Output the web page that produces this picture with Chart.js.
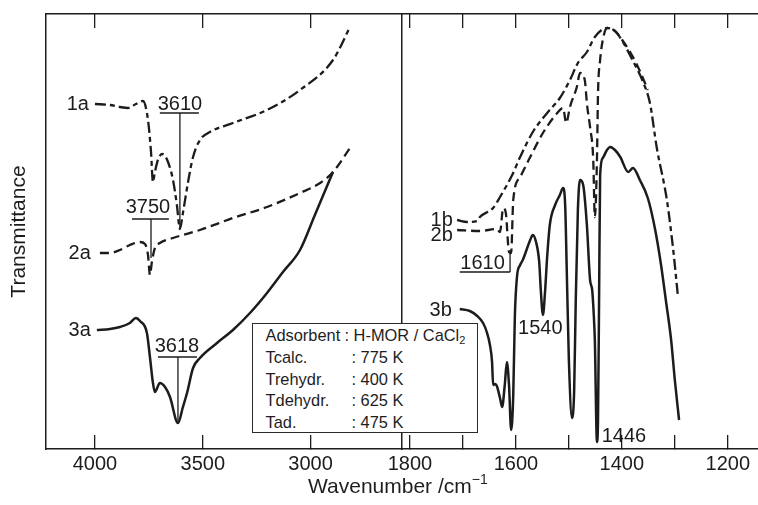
<!DOCTYPE html>
<html>
<head>
<meta charset="utf-8">
<script src="https://cdn.jsdelivr.net/npm/chart.js@4.4.1/dist/chart.umd.min.js"></script>
<style>
  html, body { margin: 0; padding: 0; background: #fff; }
  #fig { position: relative; width: 758px; height: 505px; overflow: hidden;
         font-family: "Liberation Sans", Arial, Helvetica, sans-serif; color: #1e1e1e; }
  #fig canvas { position: absolute; top: 0; }
  #chartL { left: 0; }
  #chartR { left: 360px; }
  #xtitle { position: absolute; left: 308px; top: 473px; font-size: 21px; line-height: 26px; white-space: nowrap; }
  #xtitle sup { font-size: 14px; vertical-align: 0; position: relative; top: -9px; }
  #conditions { position: absolute; left: 252px; top: 323px; width: 226px; height: 110px;
                border: 1.5px solid #2a2a2a; background: #fff; font-size: 16.4px;
                padding: 1px 0 0 12.5px; box-sizing: border-box; }
  #conditions .row { line-height: 21.8px; white-space: nowrap; }
  #conditions .key { display: inline-block; width: 86px; }
  #conditions .row:first-child .key { width: 79px; }
  #conditions sub { font-size: 11px; vertical-align: -3px; line-height: 0; }
</style>
</head>
<body>
<div id="fig">
  <canvas id="chartL" width="402" height="505"></canvas>
  <canvas id="chartR" width="398" height="505"></canvas>
  <div id="conditions"></div>
  <div id="xtitle">Wavenumber /cm<sup>−1</sup></div>
</div>
<script>
// O–H stretching window (cm-1 / transmittance, arbitrary units)
const wn1a = [4000, 3930, 3884, 3847, 3810, 3777, 3754, 3740, 3731, 3722, 3708, 3689, 3675, 3661, 3638, 3620, 3606, 3592, 3569, 3545, 3513, 3467, 3360, 3202, 3049, 2896, 2817];
const t1a  = [345, 344, 342, 341, 345, 348, 329, 297, 267, 277, 289, 295, 293, 287, 269, 244, 220, 236, 266, 292, 309, 317, 326, 339, 359, 389, 422];

const wn2a = [3977, 3930, 3884, 3838, 3791, 3768, 3754, 3745, 3736, 3722, 3699, 3638, 3513, 3360, 3202, 3049, 2956, 2896, 2817];
const t2a  = [196, 196, 199, 204, 207, 205, 194, 174, 187, 201, 206, 211, 219, 231, 242, 256, 266, 277, 301];

const wn3a = [3991, 3930, 3884, 3838, 3810, 3791, 3759, 3745, 3731, 3722, 3699, 3675, 3652, 3615, 3592, 3573, 3545, 3513, 3434, 3360, 3281, 3202, 3128, 3049, 2980, 2896];
const t3a  = [119, 120, 122, 126, 131, 128, 116, 92, 66, 57, 66, 62, 52, 26, 42, 56, 81, 91, 106, 119, 136, 156, 177, 199, 234, 277];

// deformation / ring window
const wn1b = [1711, 1692, 1673, 1668, 1643, 1630, 1607, 1592, 1568, 1541, 1517, 1498, 1483, 1466, 1451, 1428, 1413, 1398, 1379, 1360, 1347, 1334, 1315, 1303, 1294];
const t1b  = [229, 227, 228, 232, 241, 252, 274, 292, 317, 336, 351, 369, 386, 397, 412, 421, 418, 407, 388, 367, 346, 301, 249, 199, 152];

const wn2b = [1711, 1668, 1636, 1630, 1624, 1619, 1613, 1609, 1605, 1592, 1573, 1549, 1522, 1511, 1505, 1498, 1485, 1479, 1470, 1466, 1464, 1460, 1454, 1451, 1447, 1445, 1441, 1436, 1428, 1413, 1398, 1379, 1366, 1351];
const t2b  = [219, 218, 220, 217, 241, 236, 197, 196, 249, 272, 292, 316, 336, 341, 326, 342, 362, 376, 369, 346, 337, 322, 289, 232, 289, 356, 389, 409, 421, 418, 408, 392, 378, 359];

const wn3b = [1706, 1687, 1673, 1662, 1655, 1649, 1645, 1643, 1639, 1636, 1630, 1626, 1621, 1617, 1613, 1609, 1605, 1602, 1598, 1592, 1587, 1573, 1568, 1562, 1556, 1553, 1549, 1545, 1541, 1536, 1526, 1517, 1511, 1507, 1504, 1500, 1494, 1490, 1487, 1483, 1479, 1473, 1466, 1460, 1456, 1453, 1451, 1447, 1445, 1443, 1441, 1436, 1428, 1422, 1413, 1403, 1388, 1379, 1366, 1351, 1337, 1326, 1317, 1307, 1300, 1292];
const t3b  = [140, 138, 133, 126, 117, 104, 87, 64, 65, 63, 51, 42, 64, 87, 64, 19, 54, 132, 172, 184, 189, 209, 214, 207, 187, 159, 134, 157, 192, 224, 244, 254, 261, 244, 179, 89, 31, 59, 149, 239, 269, 264, 224, 169, 159, 134, 109, 7, 29, 149, 274, 291, 299, 302, 299, 292, 277, 281, 269, 251, 219, 184, 149, 109, 69, 29];

const leftTicks = [4000, 3500, 3000];
const leftTickLabels = ['4000', '3500', '3000'];
const rightTicks = [1800, 1700, 1600, 1500, 1400, 1300, 1200];
const rightTickLabels = ['1800', '', '1600', '', '1400', '', '1200'];

const condKeys = ['Adsorbent', 'Tcalc.', 'Trehydr.', 'Tdehydr.', 'Tad.'];
const condValues = [': H-MOR / CaCl<sub>2</sub>', ': 775 K', ': 400 K', ': 625 K', ': 475 K'];

const INK = '#1c1c1c';
const FONT = '"Liberation Sans", Arial, Helvetica, sans-serif';
const DASH_DOT = [11, 4, 5, 4];
const DASH = [9, 5];

const pts = (xs, ys) => xs.map((x, i) => ({ x, y: ys[i] }));

function trace(xs, ys, dash, width) {
  return {
    data: pts(xs, ys),
    borderColor: INK,
    borderWidth: width,
    borderDash: dash,
    borderCapStyle: 'butt',
    borderJoinStyle: 'round',
    pointRadius: 0,
    fill: false,
    cubicInterpolationMode: 'monotone'
  };
}

// peak labels: underline + drop line, and free text, all in data units
const bandMarks = {
  id: 'bandMarks',
  afterDatasetsDraw(chart, args, opts) {
    const { ctx } = chart;
    const x = chart.scales.x, y = chart.scales.y;
    ctx.save();
    ctx.strokeStyle = INK;
    ctx.fillStyle = INK;
    ctx.lineWidth = 1.3;
    for (const m of opts.marks || []) {
      const ly = y.getPixelForValue(m.lineY);
      const ax = x.getPixelForValue(m.at);
      ctx.beginPath();
      ctx.moveTo(x.getPixelForValue(m.from), ly);
      ctx.lineTo(x.getPixelForValue(m.to), ly);
      ctx.moveTo(ax, ly);
      ctx.lineTo(ax, y.getPixelForValue(m.endY));
      ctx.stroke();
    }
    ctx.font = '20px ' + FONT;
    ctx.textBaseline = 'middle';
    for (const t of opts.texts || []) {
      ctx.textAlign = t.align || 'center';
      ctx.fillText(t.text, x.getPixelForValue(t.x), y.getPixelForValue(t.y));
    }
    ctx.restore();
  }
};

function xAxis(pos, lo, hi, ticks, labels) {
  return {
    type: 'linear',
    axis: 'x',
    position: pos,
    reverse: true,
    min: lo,
    max: hi,
    afterBuildTicks: s => { s.ticks = ticks.map(v => ({ value: v })); },
    afterFit: s => {
      s.height = pos === 'bottom' ? 56 : 0;
      s.paddingLeft = 0;
      s.paddingRight = 0;
    },
    ticks: {
      display: pos === 'bottom',
      padding: 17,
      maxRotation: 0,
      autoSkip: false,
      color: INK,
      font: { family: FONT, size: 20 },
      callback: (v, i) => labels[i]
    },
    grid: { drawOnChartArea: false, drawTicks: true, tickLength: -14, color: INK, lineWidth: 1.3 },
    border: { display: true, color: INK, width: 1.5 }
  };
}

function yAxis(width, title) {
  return {
    min: 0,
    max: 435,
    position: 'left',
    ticks: { display: false },
    grid: { display: false },
    border: { display: true, color: INK, width: 1.5 },
    title: {
      display: !!title,
      text: title || '',
      color: INK,
      font: { family: FONT, size: 21 },
      padding: { top: 7, bottom: 0 }
    },
    afterFit: s => { s.width = width; }
  };
}

const common = {
  responsive: false,
  animation: false,
  events: [],
  plugins: { legend: { display: false }, tooltip: { enabled: false } }
};

new Chart(document.getElementById('chartL'), {
  type: 'line',
  data: {
    datasets: [
      trace(wn1a, t1a, DASH_DOT, 2.3),
      trace(wn2a, t2a, DASH, 2.3),
      trace(wn3a, t3a, [], 2.5)
    ]
  },
  options: {
    ...common,
    layout: { padding: { top: 14, right: 0, left: 0, bottom: 0 } },
    scales: {
      x: xAxis('bottom', 2576, 4227, leftTicks, leftTickLabels),
      xTop: xAxis('top', 2576, 4227, leftTicks, leftTickLabels),
      y: yAxis(46, 'Transmittance')
    },
    plugins: {
      ...common.plugins,
      bandMarks: {
        marks: [
          { at: 3606, from: 3699, to: 3518, lineY: 336, endY: 221 },
          { at: 3740, from: 3828, to: 3657, lineY: 230, endY: 191 },
          { at: 3615, from: 3708, to: 3527, lineY: 92, endY: 27 }
        ],
        texts: [
          { text: '3610', x: 3606, y: 345 },
          { text: '3750', x: 3754, y: 242 },
          { text: '3618', x: 3620, y: 103 },
          { text: '1a', x: 4028, y: 345, align: 'right' },
          { text: '2a', x: 4019, y: 196, align: 'right' },
          { text: '3a', x: 4019, y: 119, align: 'right' }
        ]
      }
    }
  },
  plugins: [bandMarks]
});

new Chart(document.getElementById('chartR'), {
  type: 'line',
  data: {
    datasets: [
      trace(wn1b, t1b, DASH_DOT, 2.3),
      trace(wn2b, t2b, DASH, 2.3),
      trace(wn3b, t3b, [], 2.5)
    ]
  },
  options: {
    ...common,
    layout: { padding: { top: 14, right: 0, left: 0, bottom: 0 } },
    scales: {
      x: xAxis('bottom', 1143, 1815, rightTicks, rightTickLabels),
      xTop: xAxis('top', 1143, 1815, rightTicks, rightTickLabels),
      y: yAxis(42, '')
    },
    plugins: {
      ...common.plugins,
      bandMarks: {
        marks: [
          { at: 1611, from: 1706, to: 1611, lineY: 177, endY: 199 }
        ],
        texts: [
          { text: '1610', x: 1663, y: 186 },
          { text: '1540', x: 1554, y: 121 },
          { text: '1446', x: 1396, y: 13 },
          { text: '1b', x: 1719, y: 229, align: 'right' },
          { text: '2b', x: 1719, y: 214, align: 'right' },
          { text: '3b', x: 1721, y: 139, align: 'right' }
        ]
      }
    }
  },
  plugins: [bandMarks]
});

// measurement conditions box
const box = document.getElementById('conditions');
condKeys.forEach((k, i) => {
  const row = document.createElement('div');
  row.className = 'row';
  row.innerHTML = '<span class="key">' + k + '</span><span>' + condValues[i] + '</span>';
  box.appendChild(row);
});
</script>
</body>
</html>
